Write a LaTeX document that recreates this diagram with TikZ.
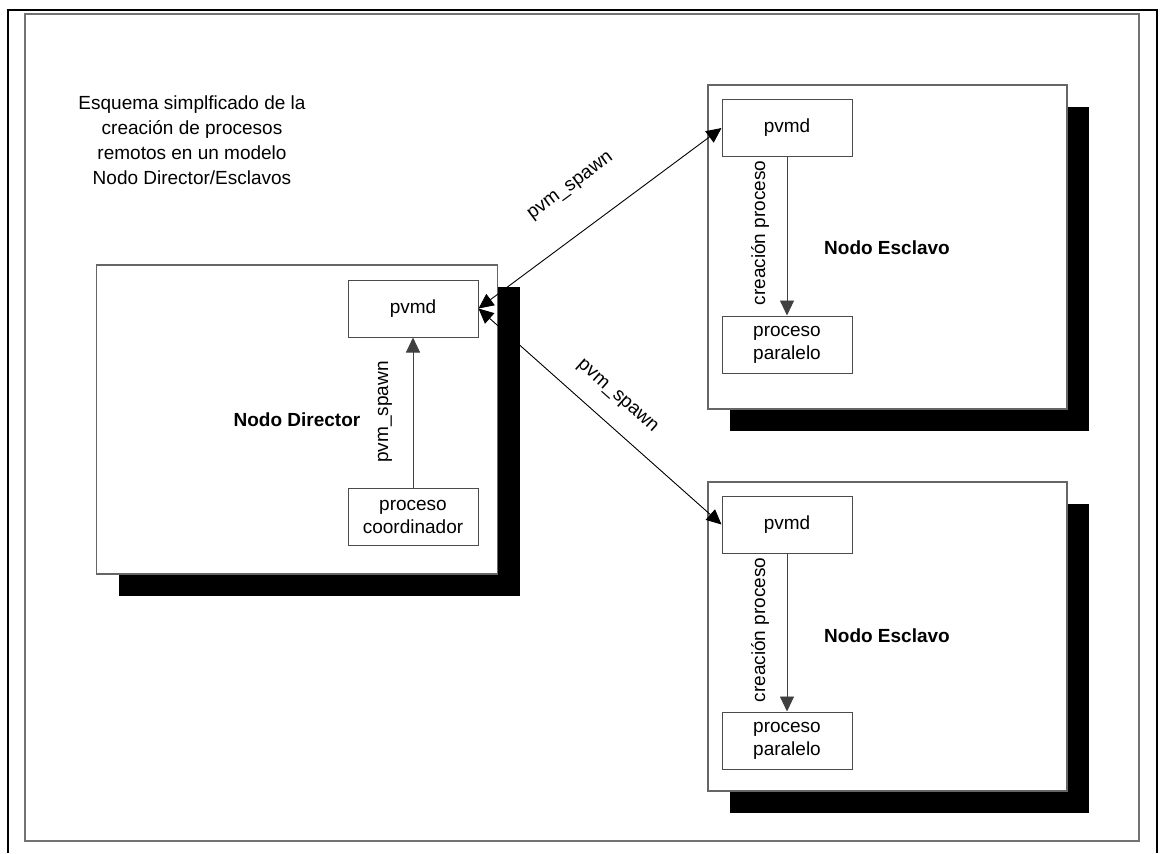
\documentclass[tikz,border=0pt]{standalone}
\usepackage{fontspec}
\setmainfont{Liberation Sans}
\usetikzlibrary{arrows.meta,shadows}
\tikzset{nodo/.style = {draw=black!60, fill=white, line width=0.6pt,
                        drop shadow={shadow xshift=11pt, shadow yshift=-11pt, fill=black, opacity=1}},
         caja/.style = {draw=black!70, fill=white, line width=0.5pt, align=center,
                        minimum width=65pt, minimum height=28.5pt, inner sep=1pt},
         flecha/.style = {-{Triangle[length=7.5pt,width=7pt]}, draw=black!75, line width=0.45pt},
         doble/.style = {{Triangle[length=7.5pt,width=7pt]}-{Triangle[length=7.5pt,width=7pt]}, line width=0.45pt}}

\begin{document}
\begin{tikzpicture}[x=0.5pt, y=-0.5pt, font=\fontsize{9.5}{11.5}\selectfont]
\useasboundingbox (0,0) rectangle (1162,853);
% marco
\draw [line width=1pt] (8,853) -- (8,10) -- (1157,10) -- (1157,853);
\draw [black!55, line width=0.8pt] (25,14) rectangle (1139,841);
\node [align=center, font=\fontsize{9.5}{12.5}\selectfont] (titulo) at (192,140)
  {Esquema simplficado de la\\creación de procesos\\remotos en un modelo\\Nodo Director/Esclavos};
% nodos
\node [nodo, minimum width=200.5pt, minimum height=154.5pt] (director) at (297,419.5) {};
\node [nodo, minimum width=179.5pt, minimum height=162pt] (esclavoA) at (887.5,247) {};
\node [nodo, minimum width=179.5pt, minimum height=154.5pt] (esclavoB) at (887.5,636.5) {};
\node [font=\fontsize{9.5}{11.5}\bfseries] (lbldir) at (297,420) {Nodo Director};
\node [font=\fontsize{9.5}{11.5}\bfseries] (lblescA) at (887,248) {Nodo Esclavo};
\node [font=\fontsize{9.5}{11.5}\bfseries] (lblescB) at (887,636) {Nodo Esclavo};
% procesos
\node [caja] (pvmdD) at (413,308.5) {pvmd};
\node [caja] (coord) at (413,517) {proceso\\coordinador};
\node [caja] (pvmdA) at (787,128) {pvmd};
\node [caja] (parA) at (787,344.5) {proceso\\paralelo};
\node [caja] (pvmdB) at (787,524.5) {pvmd};
\node [caja] (parB) at (787,740.5) {proceso\\paralelo};
% flechas
\draw [flecha] (coord) -- (pvmdD);
\draw [flecha] (pvmdA) -- (parA);
\draw [flecha] (pvmdB) -- (parB);
\draw [doble] (pvmdD.east) -- (pvmdA.west);
\draw [doble] (pvmdD.east) -- (pvmdB.west);
\node [rotate=90] (spawnD) at (385,412) {pvm\_spawn};
\node [rotate=90] (creaA) at (760,233) {creación proceso};
\node [rotate=90] (creaB) at (760,630) {creación proceso};
\node [rotate=36.4] (spawnA) at (571,187) {pvm\_spawn};
\node [rotate=-41.5] (spawnB) at (617,397) {pvm\_spawn};
\end{tikzpicture}
\end{document}
